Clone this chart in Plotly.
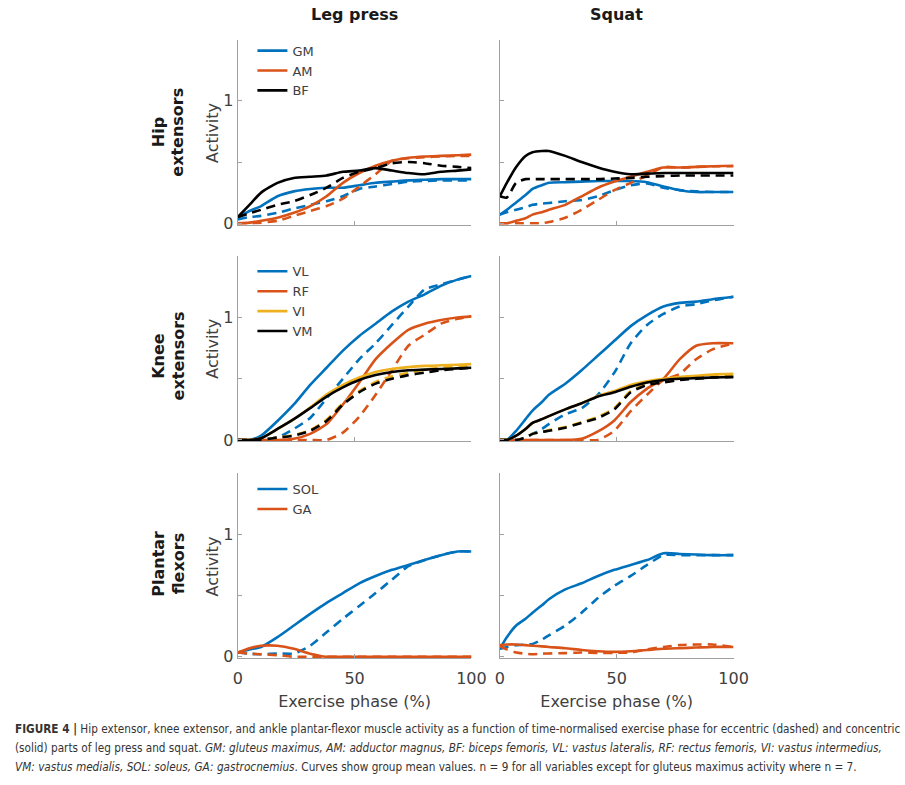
import plotly.graph_objects as go
from plotly.subplots import make_subplots

# ---------------- data ----------------
X_LP = [0, 5, 10, 17, 24, 31, 38, 45, 52, 59, 66, 73, 80, 87, 94, 100]
X_SQ = [0, 3, 7, 11, 14, 18, 21, 28, 35, 42, 49, 56, 63, 70, 77, 84, 91, 100]

# Leg press - hip extensors
LP_GM_CON = [0.045, 0.10, 0.14, 0.22, 0.26, 0.28, 0.29, 0.29, 0.31, 0.33, 0.34, 0.35, 0.355, 0.36, 0.36, 0.36]
LP_GM_ECC = [0.03, 0.05, 0.06, 0.085, 0.12, 0.15, 0.18, 0.22, 0.28, 0.30, 0.32, 0.34, 0.345, 0.35, 0.35, 0.35]
LP_AM_CON = [0.0, 0.005, 0.02, 0.045, 0.085, 0.14, 0.22, 0.33, 0.41, 0.47, 0.51, 0.535, 0.545, 0.55, 0.555, 0.56]
LP_AM_ECC = [0.0, 0.0, 0.005, 0.02, 0.06, 0.10, 0.14, 0.20, 0.30, 0.40, 0.51, 0.53, 0.54, 0.545, 0.55, 0.55]
LP_BF_CON = [0.05, 0.15, 0.25, 0.33, 0.37, 0.38, 0.39, 0.42, 0.43, 0.45, 0.43, 0.41, 0.40, 0.42, 0.43, 0.44]
LP_BF_ECC = [0.05, 0.08, 0.11, 0.15, 0.18, 0.23, 0.29, 0.37, 0.42, 0.45, 0.49, 0.50, 0.49, 0.47, 0.46, 0.45]

# Leg press - knee extensors
LP_VL_CON = [0.0, 0.0, 0.035, 0.155, 0.29, 0.45, 0.59, 0.73, 0.85, 0.95, 1.05, 1.13, 1.19, 1.26, 1.31, 1.34]
LP_VL_ECC = [0.0, 0.0, 0.005, 0.02, 0.09, 0.18, 0.34, 0.50, 0.66, 0.79, 0.94, 1.09, 1.23, 1.27, 1.31, 1.34]
LP_RF_CON = [0.0, 0.0, 0.0, 0.0, 0.01, 0.05, 0.13, 0.29, 0.47, 0.66, 0.79, 0.90, 0.95, 0.98, 1.0, 1.01]
LP_RF_ECC = [0.0, 0.0, 0.0, 0.0, 0.0, 0.0, 0.0, 0.06, 0.19, 0.37, 0.57, 0.77, 0.86, 0.95, 0.99, 1.01]
LP_VI_CON = [0.0, 0.0, 0.015, 0.09, 0.17, 0.265, 0.37, 0.45, 0.51, 0.555, 0.58, 0.595, 0.605, 0.61, 0.615, 0.62]
LP_VI_ECC = [0.0, 0.0, 0.0, 0.02, 0.04, 0.08, 0.165, 0.30, 0.40, 0.475, 0.52, 0.55, 0.575, 0.59, 0.60, 0.61]
LP_VM_CON = [0.0, 0.0, 0.015, 0.09, 0.17, 0.26, 0.355, 0.43, 0.49, 0.53, 0.555, 0.57, 0.575, 0.58, 0.585, 0.59]
LP_VM_ECC = [0.0, 0.0, 0.0, 0.02, 0.035, 0.075, 0.155, 0.29, 0.39, 0.46, 0.50, 0.53, 0.55, 0.57, 0.58, 0.59]

# Leg press - plantar flexors
LP_SOL_CON = [0.035, 0.06, 0.08, 0.16, 0.255, 0.35, 0.44, 0.52, 0.60, 0.66, 0.71, 0.75, 0.79, 0.83, 0.86, 0.86]
LP_SOL_ECC = [0.035, 0.025, 0.02, 0.027, 0.027, 0.09, 0.20, 0.31, 0.415, 0.52, 0.63, 0.74, 0.79, 0.83, 0.86, 0.86]
LP_GA_CON = [0.035, 0.07, 0.09, 0.09, 0.065, 0.025, 0.0, 0.0, 0.0, 0.0, 0.0, 0.0, 0.0, 0.0, 0.0, 0.0]
LP_GA_ECC = [0.035, 0.025, 0.02, 0.013, 0.0, 0.0, 0.0, 0.0, 0.0, 0.0, 0.0, 0.0, 0.0, 0.0, 0.0, 0.0]

# Squat - hip extensors
SQ_GM_CON = [0.07, 0.11, 0.17, 0.23, 0.28, 0.31, 0.33, 0.335, 0.34, 0.345, 0.345, 0.345, 0.335, 0.30, 0.27, 0.255, 0.255, 0.255]
SQ_GM_ECC = [0.07, 0.09, 0.11, 0.13, 0.15, 0.16, 0.165, 0.18, 0.19, 0.22, 0.27, 0.31, 0.325, 0.29, 0.27, 0.26, 0.255, 0.255]
SQ_AM_CON = [0.0, 0.0, 0.02, 0.04, 0.07, 0.09, 0.11, 0.15, 0.22, 0.29, 0.34, 0.38, 0.42, 0.455, 0.455, 0.46, 0.465, 0.47]
SQ_AM_ECC = [0.0, 0.0, 0.0, 0.0, 0.0, 0.0, 0.01, 0.045, 0.11, 0.19, 0.27, 0.33, 0.39, 0.46, 0.455, 0.46, 0.465, 0.465]
SQ_BF_CON = [0.22, 0.33, 0.46, 0.55, 0.58, 0.59, 0.59, 0.55, 0.50, 0.455, 0.42, 0.40, 0.405, 0.41, 0.41, 0.41, 0.41, 0.41]
SQ_BF_ECC = [0.22, 0.21, 0.33, 0.36, 0.36, 0.36, 0.36, 0.36, 0.36, 0.36, 0.365, 0.37, 0.38, 0.385, 0.39, 0.39, 0.39, 0.39]

# Squat - knee extensors
SQ_VL_CON = [0.0, 0.0, 0.075, 0.17, 0.24, 0.31, 0.37, 0.46, 0.57, 0.69, 0.81, 0.93, 1.02, 1.09, 1.12, 1.13, 1.15, 1.17]
SQ_VL_ECC = [0.0, 0.0, 0.0, 0.02, 0.05, 0.09, 0.13, 0.21, 0.26, 0.37, 0.55, 0.79, 0.94, 1.03, 1.09, 1.11, 1.14, 1.17]
SQ_RF_CON = [0.0, 0.0, 0.0, 0.0, 0.0, 0.0, 0.0, 0.0, 0.01, 0.07, 0.16, 0.31, 0.42, 0.50, 0.66, 0.77, 0.79, 0.79]
SQ_RF_ECC = [0.0, 0.0, 0.0, 0.0, 0.0, 0.0, 0.0, 0.0, 0.0, 0.0, 0.075, 0.235, 0.37, 0.49, 0.54, 0.66, 0.74, 0.79]
SQ_VI_CON = [0.0, 0.0, 0.035, 0.09, 0.14, 0.17, 0.195, 0.25, 0.30, 0.36, 0.40, 0.45, 0.48, 0.50, 0.515, 0.525, 0.535, 0.54]
SQ_VI_ECC = [0.0, 0.0, 0.0, 0.02, 0.05, 0.065, 0.08, 0.105, 0.145, 0.19, 0.26, 0.40, 0.46, 0.49, 0.505, 0.515, 0.525, 0.535]
SQ_VM_CON = [0.0, 0.0, 0.035, 0.09, 0.14, 0.17, 0.195, 0.25, 0.30, 0.355, 0.39, 0.435, 0.47, 0.49, 0.50, 0.505, 0.51, 0.515]
SQ_VM_ECC = [0.0, 0.0, 0.0, 0.02, 0.05, 0.065, 0.075, 0.10, 0.14, 0.18, 0.25, 0.39, 0.45, 0.47, 0.49, 0.50, 0.51, 0.515]

# Squat - plantar flexors
SQ_SOL_CON = [0.065, 0.16, 0.255, 0.31, 0.36, 0.42, 0.47, 0.55, 0.60, 0.66, 0.71, 0.75, 0.79, 0.845, 0.84, 0.835, 0.83, 0.83]
SQ_SOL_ECC = [0.065, 0.08, 0.095, 0.10, 0.105, 0.14, 0.175, 0.255, 0.36, 0.48, 0.58, 0.66, 0.75, 0.83, 0.83, 0.83, 0.83, 0.83]
SQ_GA_CON = [0.095, 0.10, 0.10, 0.095, 0.09, 0.085, 0.08, 0.07, 0.055, 0.045, 0.04, 0.045, 0.055, 0.065, 0.07, 0.075, 0.08, 0.08]
SQ_GA_ECC = [0.09, 0.06, 0.035, 0.025, 0.02, 0.025, 0.027, 0.03, 0.035, 0.032, 0.032, 0.035, 0.06, 0.08, 0.095, 0.10, 0.10, 0.08]

COLUMN_TITLES = ["Leg press", "Squat"]
ROW_TITLES = [("Hip", "extensors"), ("Knee", "extensors"), ("Plantar", "flexors")]
Y_TICKS = [0, 0.5, 1, 1.5]
Y_TICKTEXT = ["0", "", "1", ""]
X_TICKS = [0, 50, 100]

CAPTION_1 = ("<b>FIGURE 4 |</b> Hip extensor, knee extensor, and ankle plantar-flexor muscle activity as a function of "
             "time-normalised exercise phase for eccentric (dashed) and concentric")
CAPTION_2 = ("(solid) parts of leg press and squat. <i>GM: gluteus maximus, AM: adductor magnus, BF: biceps femoris, "
             "VL: vastus lateralis, RF: rectus femoris, VI: vastus intermedius,</i>")
CAPTION_3 = ("<i>VM: vastus medialis, SOL: soleus, GA: gastrocnemius</i>. Curves show group mean values. "
             "n = 9 for all variables except for gluteus maximus activity where n = 7.")

BLUE = "#0072BD"
ORANGE = "#D95319"
YELLOW = "#EDB120"
BLACK = "#000000"
AXIS_GREY = "#a0a0a0"
TEXT_GREY = "#404040"
FONT = "DejaVu Sans"

W, H = 905, 785

fig = make_subplots(rows=3, cols=2)


def add(row, col, x, con, ecc, name, color, legend):
    fig.add_trace(go.Scatter(x=x, y=ecc, mode="lines", name=name + " ecc",
                             line=dict(color=color, width=2.6, dash="9px,6px", shape="spline", smoothing=0.6),
                             showlegend=False, hoverinfo="skip"), row=row, col=col)
    fig.add_trace(go.Scatter(x=x, y=con, mode="lines", name=name,
                             line=dict(color=color, width=2.6, shape="spline", smoothing=0.6),
                             showlegend=(col == 1), legend=legend, hoverinfo="skip"), row=row, col=col)


# Row 1
add(1, 1, X_LP, LP_GM_CON, LP_GM_ECC, "GM", BLUE, "legend")
add(1, 1, X_LP, LP_AM_CON, LP_AM_ECC, "AM", ORANGE, "legend")
add(1, 1, X_LP, LP_BF_CON, LP_BF_ECC, "BF", BLACK, "legend")
add(1, 2, X_SQ, SQ_GM_CON, SQ_GM_ECC, "GM", BLUE, "legend")
add(1, 2, X_SQ, SQ_AM_CON, SQ_AM_ECC, "AM", ORANGE, "legend")
add(1, 2, X_SQ, SQ_BF_CON, SQ_BF_ECC, "BF", BLACK, "legend")
# Row 2
add(2, 1, X_LP, LP_VL_CON, LP_VL_ECC, "VL", BLUE, "legend2")
add(2, 1, X_LP, LP_RF_CON, LP_RF_ECC, "RF", ORANGE, "legend2")
add(2, 1, X_LP, LP_VI_CON, LP_VI_ECC, "VI", YELLOW, "legend2")
add(2, 1, X_LP, LP_VM_CON, LP_VM_ECC, "VM", BLACK, "legend2")
add(2, 2, X_SQ, SQ_VL_CON, SQ_VL_ECC, "VL", BLUE, "legend2")
add(2, 2, X_SQ, SQ_RF_CON, SQ_RF_ECC, "RF", ORANGE, "legend2")
add(2, 2, X_SQ, SQ_VI_CON, SQ_VI_ECC, "VI", YELLOW, "legend2")
add(2, 2, X_SQ, SQ_VM_CON, SQ_VM_ECC, "VM", BLACK, "legend2")
# Row 3
add(3, 1, X_LP, LP_SOL_CON, LP_SOL_ECC, "SOL", BLUE, "legend3")
add(3, 1, X_LP, LP_GA_CON, LP_GA_ECC, "GA", ORANGE, "legend3")
add(3, 2, X_SQ, SQ_SOL_CON, SQ_SOL_ECC, "SOL", BLUE, "legend3")
add(3, 2, X_SQ, SQ_GA_CON, SQ_GA_ECC, "GA", ORANGE, "legend3")

# ---------------- layout ----------------
x_dom = [[238 / W, 477 / W], [506 / W, 745 / W]]
row_px = [(40, 227), (259, 446), (478, 665)]
y_dom = [[1 - b / H, 1 - t / H] for t, b in row_px]

idx = 0
for r in range(3):
    for c in range(2):
        idx += 1
        xa = "xaxis" if idx == 1 else "xaxis%d" % idx
        ya = "yaxis" if idx == 1 else "yaxis%d" % idx
        fig.layout[xa].update(
            domain=x_dom[c], range=[0, 100], showline=True, linecolor=AXIS_GREY, linewidth=1,
            ticks="inside", ticklen=4, tickcolor=AXIS_GREY, tickvals=X_TICKS,
            showticklabels=(r == 2), showgrid=False, zeroline=False,
            tickfont=dict(family=FONT, size=16, color=TEXT_GREY), ticklabelstandoff=6,
            title=dict(text="Exercise phase (%)" if r == 2 else "",
                       font=dict(family=FONT, size=16, color=TEXT_GREY), standoff=8),
        )
        fig.layout[ya].update(
            domain=y_dom[r], range=[-0.012, 1.5], showline=True, linecolor=AXIS_GREY, linewidth=1,
            ticks="inside", ticklen=4, tickcolor=AXIS_GREY, tickvals=Y_TICKS, ticktext=Y_TICKTEXT,
            showticklabels=(c == 0), showgrid=False, zeroline=False,
            tickfont=dict(family=FONT, size=16, color=TEXT_GREY), ticklabelstandoff=0,
        )

legend_style = dict(bgcolor="rgba(0,0,0,0)", borderwidth=0, xanchor="left", yanchor="top",
                    font=dict(family=FONT, size=13, color=TEXT_GREY), tracegroupgap=0,
                    itemclick=False, itemdoubleclick=False)
fig.update_layout(
    legend=dict(x=253 / W, y=1 - 36 / H, **legend_style),
    legend2=dict(x=253 / W, y=1 - 259 / H, **legend_style),
    legend3=dict(x=253 / W, y=1 - 479 / H, **legend_style),
)

annotations = []
col_centers = [357, 625]
for title, cx in zip(COLUMN_TITLES, col_centers):
    annotations.append(dict(text="<b>%s</b>" % title, x=cx / W, y=1 - 15 / H, xref="paper", yref="paper",
                            showarrow=False, xanchor="center", yanchor="middle",
                            font=dict(family=FONT, size=16, color="#1a1a1a")))
row_centers = [134, 360, 570]
act_centers = [134, 352, 572]
for (l1, l2), cy, ay in zip(ROW_TITLES, row_centers, act_centers):
    annotations.append(dict(text="<b>%s</b>" % l1, x=157 / W, y=1 - cy / H, xref="paper", yref="paper",
                            showarrow=False, xanchor="center", yanchor="middle", textangle=-90,
                            font=dict(family=FONT, size=16, color="#1a1a1a")))
    annotations.append(dict(text="<b>%s</b>" % l2, x=177 / W, y=1 - cy / H, xref="paper", yref="paper",
                            showarrow=False, xanchor="center", yanchor="middle", textangle=-90,
                            font=dict(family=FONT, size=16, color="#1a1a1a")))
    annotations.append(dict(text="Activity", x=212 / W, y=1 - ay / H, xref="paper", yref="paper",
                            showarrow=False, xanchor="center", yanchor="middle", textangle=-90,
                            font=dict(family=FONT, size=16, color=TEXT_GREY)))

cap_font = dict(family="DejaVu Sans Condensed, DejaVu Sans", size=11.7, color="#333333")
for text, cy in zip([CAPTION_1, CAPTION_2, CAPTION_3], [737, 756, 775]):
    annotations.append(dict(text=text, x=8 / W, y=1 - cy / H, xref="paper", yref="paper",
                            showarrow=False, xanchor="left", yanchor="middle", align="left",
                            font=cap_font))

fig.update_layout(
    width=W, height=H, margin=dict(l=0, r=0, t=0, b=0),
    paper_bgcolor="white", plot_bgcolor="white",
    annotations=annotations,
    font=dict(family=FONT),
)

fig.write_html("out.html")
